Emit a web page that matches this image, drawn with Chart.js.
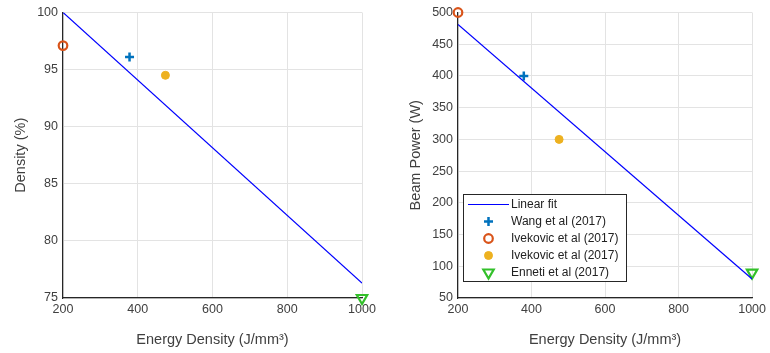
<!DOCTYPE html>
<html>
<head>
<meta charset="utf-8">
<script src="https://cdn.jsdelivr.net/npm/chart.js@4"></script>
<style>
    body { margin: 0; background: #fff; }
    .wrap { position: absolute; top: 0; width: 385px; height: 353px; }
    #left { left: 0; }
    #right { left: 385px; }
</style>
</head>
<body>
<div class="wrap" id="left"><canvas id="densityChart"></canvas></div>
<div class="wrap" id="right"><canvas id="powerChart"></canvas></div>
<script>
// x ticks shared by both panels
const energyTicks = [200, 400, 600, 800, 1000];

// left panel: density (%)
const fitDensity = [{x: 200, y: 100}, {x: 1000, y: 76.3}];
const wangDensity = [{x: 378, y: 96.1}];
const ivekovicOpenDensity = [{x: 200, y: 97.1}];
const ivekovicFilledDensity = [{x: 474, y: 94.5}];
const ennetiDensity = [{x: 1000, y: 75}];
const densityTicks = [75, 80, 85, 90, 95, 100];

// right panel: beam power (W)
const fitPower = [{x: 200, y: 481}, {x: 1000, y: 80}];
const wangPower = [{x: 379, y: 400}];
const ivekovicOpenPower = [{x: 200, y: 500}];
const ivekovicFilledPower = [{x: 475, y: 300}];
const ennetiPower = [{x: 1000, y: 90}];
const powerTicks = [50, 100, 150, 200, 250, 300, 350, 400, 450, 500];

const legendLabels = ['Linear fit', 'Wang et al (2017)', 'Ivekovic et al (2017)', 'Ivekovic et al (2017)', 'Enneti et al (2017)'];

const BLUE = '#0072BD';
const ORANGE = '#D95319';
const YELLOW = '#EDB120';
const GREEN = '#33C02A';
const FONT = 'Liberation Sans, Arial, sans-serif';
const AXIS_COLOR = '#262626';
const TEXT_COLOR = '#404040';

Chart.defaults.font.family = FONT;
Chart.defaults.animation = false;

function makeDatasets(fit, wang, ivOpen, ivFilled, enneti) {
    return [
        {
            type: 'line', label: legendLabels[0], data: fit,
            borderColor: '#0000ff', borderWidth: 1.2, pointRadius: 0, fill: false
        },
        {
            label: legendLabels[1], data: wang, pointStyle: 'cross',
            pointRadius: 4.5, borderColor: BLUE, borderWidth: 2.5, backgroundColor: BLUE, clip: false
        },
        {
            label: legendLabels[2], data: ivOpen, pointStyle: 'circle',
            pointRadius: 4.3, borderColor: ORANGE, borderWidth: 2.2, backgroundColor: 'rgba(0,0,0,0)', clip: false
        },
        {
            label: legendLabels[3], data: ivFilled, pointStyle: 'circle',
            pointRadius: 4, borderColor: YELLOW, borderWidth: 1, backgroundColor: YELLOW, clip: false
        },
        {
            label: legendLabels[4], data: enneti, pointStyle: 'triangle', rotation: 180,
            pointRadius: 6, borderColor: GREEN, borderWidth: 2.2, backgroundColor: 'rgba(0,0,0,0)', clip: false
        }
    ];
}

function makeOptions(yTitle, yMin, yMax, yTicks, yWidth, titleGap, pad) {
    return {
        responsive: false,
        layout: { padding: pad },
        plugins: { legend: { display: false }, tooltip: { enabled: false } },
        scales: {
            x: {
                type: 'linear', min: 200, max: 1000,
                afterBuildTicks: function (axis) { axis.ticks = energyTicks.map(v => ({value: v})); },
                afterFit: function (axis) { axis.height = 55; },
                grid: { color: '#e3e3e3', drawTicks: false },
                border: { color: AXIS_COLOR, width: 1.2 },
                ticks: { color: TEXT_COLOR, font: { size: 12.5 }, padding: 4, maxRotation: 0, callback: v => String(v) },
                title: { display: true, text: 'Energy Density (J/mm³)', color: TEXT_COLOR, font: { size: 14.5 }, padding: { top: 5 } }
            },
            y: {
                type: 'linear', min: yMin, max: yMax,
                afterBuildTicks: function (axis) { axis.ticks = yTicks.map(v => ({value: v})); },
                afterFit: function (axis) { axis.width = yWidth; },
                grid: { color: '#e3e3e3', drawTicks: false },
                border: { color: AXIS_COLOR, width: 1.2 },
                ticks: { color: TEXT_COLOR, font: { size: 12.5 }, padding: 5, callback: v => String(v) },
                title: { display: true, text: yTitle, color: TEXT_COLOR, font: { size: 14.5 }, padding: { top: titleGap, bottom: 4 } }
            }
        }
    };
}

// legend box drawn inside the plot area, bottom left
const insideLegend = {
    id: 'insideLegend',
    afterDraw: function (chart) {
        const ctx = chart.ctx;
        const area = chart.chartArea;
        const boxW = 163, boxH = 87;
        const left = area.left + 5;
        const top = area.bottom - 17 - boxH;
        ctx.save();
        ctx.fillStyle = '#fff';
        ctx.fillRect(left, top, boxW, boxH);
        ctx.strokeStyle = AXIS_COLOR;
        ctx.lineWidth = 1;
        ctx.strokeRect(left + 0.5, top + 0.5, boxW, boxH);
        ctx.font = '12px ' + FONT;
        ctx.textBaseline = 'middle';
        const sets = chart.data.datasets;
        for (let i = 0; i < sets.length; ++i) {
            const y = top + 10.5 + i * 17;
            const ds = sets[i];
            if (i === 0) {
                ctx.strokeStyle = ds.borderColor;
                ctx.lineWidth = ds.borderWidth;
                ctx.beginPath();
                ctx.moveTo(left + 5, y);
                ctx.lineTo(left + 46, y);
                ctx.stroke();
            } else {
                ctx.strokeStyle = ds.borderColor;
                ctx.fillStyle = ds.backgroundColor;
                ctx.lineWidth = ds.borderWidth;
                Chart.helpers.drawPoint(ctx, {
                    pointStyle: ds.pointStyle,
                    rotation: ds.rotation || 0,
                    radius: ds.pointRadius,
                    borderWidth: ds.borderWidth
                }, left + 25.5, y);
            }
            ctx.fillStyle = '#222';
            ctx.fillText(ds.label, left + 48, y + 0.5);
        }
        ctx.restore();
    }
};

function initCharts() {
    new Chart(document.getElementById('densityChart'), {
        type: 'scatter',
        data: { datasets: makeDatasets(fitDensity, wangDensity, ivekovicOpenDensity, ivekovicFilledDensity, ennetiDensity) },
        options: makeOptions('Density (%)', 75, 100, densityTicks, 63, 12, { top: 12, right: 23, left: 0, bottom: 0 })
    });
    new Chart(document.getElementById('powerChart'), {
        type: 'scatter',
        data: { datasets: makeDatasets(fitPower, wangPower, ivekovicOpenPower, ivekovicFilledPower, ennetiPower) },
        options: makeOptions('Beam Power (W)', 50, 500, powerTicks, 73, 22, { top: 11, right: 13, left: 0, bottom: 0 }),
        plugins: [insideLegend]
    });
}

document.getElementById('densityChart').width = 385;
document.getElementById('densityChart').height = 353;
document.getElementById('powerChart').width = 385;
document.getElementById('powerChart').height = 353;
initCharts();
</script>
</body>
</html>
